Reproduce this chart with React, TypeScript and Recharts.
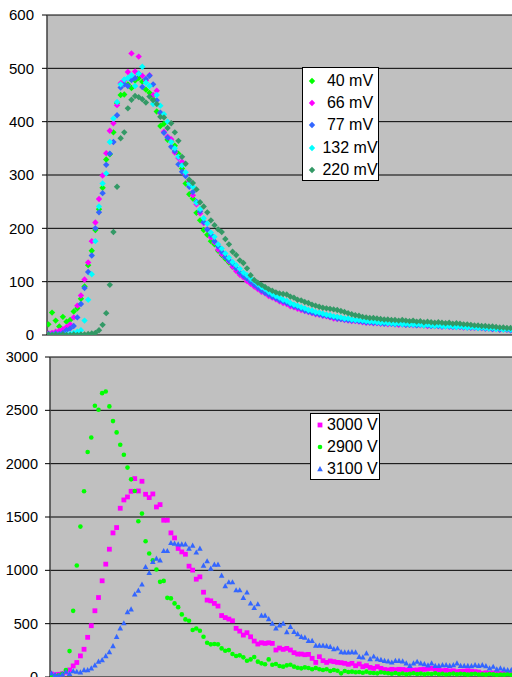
import { ScatterChart, Scatter, XAxis, YAxis, CartesianGrid, Legend } from 'recharts'

// Upper panel: spectra at several discriminator thresholds (index = channel)
const mv40 = [
  20, 42, 27, 16, 34, 25, 28, 44, 50, 68,
  91, 131, 158, 197, 236, 276, 329, 339, 380, 435,
  450, 451, 470, 463, 477, 482, 475, 460, 454, 442,
  419, 392, 396, 366, 363, 355, 340, 312, 284, 264,
  256, 229, 215, 197, 188, 176, 170, 158, 150, 143,
  136, 128, 124, 116, 111, 104, 101, 94, 90, 86,
  80, 78, 73, 70, 68, 63, 62, 58, 56, 52,
  50, 48, 45, 44, 41, 40, 38, 37, 35, 33,
  33, 31, 30, 29, 28, 27, 27, 25, 26, 24,
  24, 23, 22, 24, 21, 22, 21, 20, 22, 20,
  19, 21, 19, 20, 18, 19, 20, 17, 19, 18,
  17, 18, 16, 17, 16, 15, 17, 15, 14, 15,
  14, 13, 14, 12, 13, 12, 11, 12, 10,
]
const mv66 = [
  3, 4, 6, 8, 11, 15, 20, 33, 55, 74,
  104, 136, 176, 211, 255, 299, 341, 383, 397, 431,
  472, 477, 493, 528, 494, 522, 486, 477, 487, 450,
  458, 416, 381, 372, 367, 342, 332, 325, 300, 288,
  262, 245, 228, 210, 198, 183, 174, 160, 152, 146,
  138, 128, 120, 113, 108, 101, 96, 91, 86, 81,
  78, 73, 70, 67, 63, 60, 58, 54, 52, 49,
  47, 45, 43, 41, 39, 38, 36, 35, 33, 31,
  30, 30, 28, 27, 26, 26, 25, 24, 23, 23,
  22, 22, 21, 22, 20, 21, 20, 19, 20, 19,
  20, 18, 19, 18, 19, 17, 18, 17, 17, 16,
  17, 16, 15, 16, 15, 14, 15, 14, 13, 14,
  13, 12, 13, 11, 12, 10, 11, 10, 9,
]
const mv77 = [
  2, 1, 3, 2, 4, 9, 12, 17, 33, 58,
  88, 118, 149, 200, 230, 266, 319, 340, 362, 412,
  464, 470, 467, 478, 482, 490, 465, 480, 486, 470,
  440, 417, 379, 370, 353, 345, 320, 306, 298, 278,
  268, 250, 232, 212, 198, 188, 176, 166, 156, 146,
  140, 133, 125, 117, 111, 106, 100, 94, 89, 84,
  79, 76, 72, 69, 65, 63, 60, 57, 54, 52,
  49, 46, 44, 42, 40, 39, 37, 36, 34, 33,
  31, 30, 29, 28, 27, 27, 26, 25, 24, 24,
  23, 23, 22, 21, 22, 21, 20, 21, 20, 19,
  19, 20, 18, 19, 18, 18, 17, 18, 17, 16,
  17, 16, 16, 15, 16, 15, 14, 14, 15, 13,
  13, 12, 12, 11, 12, 10, 11, 10, 9,
]
const mv132 = [
  0, 0, 1, 0, 0, 1, 2, 4, 6, 9,
  27, 66, 114, 176, 241, 284, 303, 362, 406, 437,
  470, 479, 482, 487, 467, 490, 503, 473, 467, 433,
  450, 430, 414, 400, 362, 350, 334, 318, 305, 284,
  278, 248, 236, 219, 209, 192, 184, 170, 162, 153,
  145, 137, 131, 124, 117, 112, 106, 101, 95, 90,
  86, 81, 77, 73, 70, 66, 64, 60, 57, 55,
  52, 50, 47, 46, 43, 42, 40, 38, 37, 35,
  34, 33, 31, 31, 29, 28, 28, 27, 26, 25,
  25, 24, 23, 24, 22, 22, 21, 22, 20, 21,
  20, 19, 20, 19, 18, 19, 18, 17, 18, 17,
  16, 17, 16, 15, 16, 15, 14, 15, 14, 13,
  14, 13, 12, 13, 11, 12, 10, 11, 10,
]
const mv220 = [
  1, 0, 1, 0, 1, 0, 0, 1, 0, 1,
  1, 2, 3, 4, 9, 19, 41, 94, 193, 278,
  369, 380, 425, 441, 448, 446, 442, 436, 447, 440,
  433, 409, 408, 388, 397, 380, 364, 334, 321, 291,
  285, 273, 249, 241, 230, 215, 206, 198, 193, 180,
  170, 156, 150, 140, 135, 125, 112, 103, 98, 94,
  90, 86, 83, 80, 78, 77, 76, 72, 70, 66,
  65, 62, 60, 57, 55, 53, 51, 50, 49, 48,
  47, 45, 43, 41, 39, 37, 36, 34, 33, 32,
  32, 31, 30, 29, 29, 28, 28, 27, 28, 27,
  26, 27, 25, 26, 24, 25, 24, 23, 24, 23,
  22, 23, 21, 22, 21, 20, 20, 19, 18, 18,
  17, 17, 16, 16, 15, 14, 14, 13, 13,
]

// Lower panel: spectra at three high voltages
const v3000 = [
  28, 20, 25, 30, 45, 66, 104, 136, 198, 260,
  372, 481, 621, 745, 902, 1058, 1198, 1351, 1401, 1582,
  1660, 1688, 1741, 1860, 1744, 1835, 1713, 1682, 1716, 1594,
  1616, 1470, 1470, 1351, 1304, 1205, 1173, 1151, 1039, 1002,
  917, 939, 795, 721, 714, 690, 665, 576, 557, 543,
  527, 456, 430, 393, 415, 377, 337, 309, 321, 315,
  321, 315, 253, 271, 259, 268, 253, 228, 215, 215,
  209, 212, 175, 137, 190, 153, 137, 150, 144, 137,
  134, 128, 119, 128, 106, 122, 97, 106, 90, 81,
  97, 81, 70, 66, 72, 68, 72, 70, 66, 62,
  64, 66, 70, 72, 76, 81, 70, 66, 59, 62,
  56, 58, 50, 53, 55, 59, 52, 50, 46, 34,
  40, 34, 38, 40, 34, 36, 34, 34,
]
const v2900 = [
  10, 8, 15, 30, 66, 243, 620, 1045, 1410, 1741,
  2109, 2246, 2543, 2506, 2661, 2677, 2537, 2399, 2293, 2178,
  2084, 1963, 1853, 1744, 1460, 1532, 1273, 1158, 1095, 1008,
  892, 901, 742, 737, 690, 655, 587, 540, 527, 440,
  455, 433, 377, 321, 306, 310, 306, 268, 246, 252,
  215, 197, 203, 184, 153, 165, 187, 144, 128, 119,
  165, 115, 122, 103, 97, 109, 115, 97, 87, 81,
  90, 84, 72, 84, 72, 66, 72, 56, 66, 59,
  34, 56, 47, 50, 44, 47, 40, 50, 40, 37,
  34, 44, 40, 35, 30, 38, 28, 33, 25, 30,
  35, 28, 32, 25, 30, 28, 34, 26, 30, 24,
  28, 32, 25, 30, 27, 22, 28, 30, 24, 26,
  22, 28, 25, 20, 24, 22, 26, 20,
]
const v3100 = [
  34, 20, 15, 25, 50, 30, 56, 50, 45, 66,
  66, 81, 110, 145, 160, 197, 234, 291, 377, 456,
  505, 610, 634, 775, 811, 868, 1032, 976, 1079, 1111,
  1095, 1182, 1182, 1257, 1251, 1245, 1245, 1245, 1205, 1232,
  1168, 1205, 1045, 1086, 1017, 1055, 1055, 952, 852, 889,
  889, 814, 814, 742, 793, 690, 649, 683, 577, 577,
  543, 502, 456, 484, 502, 421, 471, 424, 402, 377,
  371, 340, 340, 296, 296, 296, 290, 284, 262, 268,
  234, 231, 231, 234, 231, 190, 184, 222, 168, 193,
  168, 162, 153, 147, 137, 153, 153, 147, 128, 106,
  128, 144, 128, 122, 109, 128, 106, 106, 112, 112,
  106, 112, 128, 106, 106, 106, 103, 112, 106, 112,
  103, 81, 97, 72, 81, 72, 66, 66,
]

const topTicks = [0, 100, 200, 300, 400, 500, 600]
const bottomTicks = [0, 500, 1000, 1500, 2000, 2500, 3000]

const toPoints = (vals: number[]) => vals.map((y, i) => ({ x: i, y }))

type Marker = 'diamond' | 'square' | 'circle' | 'triangle'

const topSeries = [
  { name: '40 mV', color: '#00FF00', values: mv40 },
  { name: '66 mV', color: '#FF00FF', values: mv66 },
  { name: '77 mV', color: '#3366FF', values: mv77 },
  { name: '132 mV', color: '#00FFFF', values: mv132 },
  { name: '220 mV', color: '#339966', values: mv220 },
]

const bottomSeries: { name: string; color: string; values: number[]; marker: Marker }[] = [
  { name: '3000 V', color: '#FF00FF', values: v3000, marker: 'square' },
  { name: '2900 V', color: '#00FF00', values: v2900, marker: 'circle' },
  { name: '3100 V', color: '#3366FF', values: v3100, marker: 'triangle' },
]

function MarkerShape({ cx, cy, color, marker }: { cx: number; cy: number; color: string; marker: Marker }) {
  if (cx == null || cy == null) return null
  if (marker === 'square') {
    return <rect x={cx - 2.4} y={cy - 2.4} width={4.8} height={4.8} fill={color} />
  }
  if (marker === 'circle') {
    return <circle cx={cx} cy={cy} r={2.3} fill={color} />
  }
  if (marker === 'triangle') {
    return <path d={`M${cx} ${cy - 3}L${cx + 2.8} ${cy + 2.2}L${cx - 2.8} ${cy + 2.2}Z`} fill={color} />
  }
  const r = 3.2
  return <path d={`M${cx} ${cy - r}L${cx + r} ${cy}L${cx} ${cy + r}L${cx - r} ${cy}Z`} fill={color} />
}

function LegendIcon({ color, marker }: { color: string; marker: Marker }) {
  return (
    <svg width={8} height={8} style={{ position: 'absolute', left: 4.5, top: 7, overflow: 'visible' }}>
      <MarkerShape cx={4} cy={4} color={color} marker={marker} />
    </svg>
  )
}

function TopLegend() {
  return (
    <div style={{ width: 77, height: 114, border: '1px solid #000', background: '#fff', boxSizing: 'border-box', paddingTop: 1.5 }}>
      {topSeries.map(s => (
        <div key={s.name} style={{ position: 'relative', height: 22.4 }}>
          <LegendIcon color={s.color} marker="diamond" />
          <span style={{ position: 'absolute', left: 17, top: 0, width: 60, textAlign: 'center', fontSize: 16, lineHeight: '22.4px', color: '#000' }}>
            {s.name}
          </span>
        </div>
      ))}
    </div>
  )
}

function BottomLegend() {
  return (
    <div style={{ width: 70, height: 67, border: '1px solid #000', background: '#fff', boxSizing: 'border-box', paddingTop: 0 }}>
      {bottomSeries.map(s => (
        <div key={s.name} style={{ position: 'relative', height: 22.2 }}>
          <LegendIcon color={s.color} marker={s.marker} />
          <span style={{ position: 'absolute', left: 16, top: 0, fontSize: 16, lineHeight: '22.2px', color: '#000', whiteSpace: 'nowrap' }}>
            {s.name}
          </span>
        </div>
      ))}
    </div>
  )
}

export default function App() {
  return (
    <div style={{ position: 'absolute', left: 0, top: 0, width: 512, height: 677, background: '#fff', overflow: 'hidden', fontFamily: '"Liberation Sans", Arial, sans-serif' }}>
      {/* Upper chart */}
      <div style={{ position: 'absolute', left: 0, top: 0 }}>
        <ScatterChart width={512} height={345} margin={{ top: 15, right: 0, bottom: 10, left: 0 }}>
          <CartesianGrid vertical={false} stroke="#000" fill="#C0C0C0" fillOpacity={1} />
          <XAxis type="number" dataKey="x" domain={[-0.4, 128.4]} hide allowDataOverflow />
          <YAxis
            type="number"
            dataKey="y"
            domain={[0, 600]}
            ticks={topTicks}
            interval={0}
            width={47}
            tickSize={5}
            tickMargin={8}
            allowDataOverflow
            axisLine={{ stroke: '#404040', strokeWidth: 1.5 }}
            tickLine={{ stroke: '#000' }}
            tick={{ fill: '#000', fontSize: 15 }}
          />
          <Legend
            layout="vertical"
            align="center"
            verticalAlign="middle"
            content={() => <TopLegend />}
            wrapperStyle={{ left: 302, top: 67, width: 77, height: 114 }}
          />
          {topSeries.map(s => (
            <Scatter
              key={s.name}
              name={s.name}
              data={toPoints(s.values)}
              fill={s.color}
              isAnimationActive={false}
              shape={(p: any) => <MarkerShape cx={p.cx} cy={p.cy} color={s.color} marker="diamond" />}
            />
          ))}
        </ScatterChart>
      </div>

      {/* Lower chart */}
      <div style={{ position: 'absolute', left: 0, top: 340 }}>
        <ScatterChart width={512} height={345} margin={{ top: 17, right: 0, bottom: 8, left: 0 }}>
          <CartesianGrid vertical={false} stroke="#000" fill="#C0C0C0" fillOpacity={1} />
          <XAxis type="number" dataKey="x" domain={[-0.4, 127.2]} hide allowDataOverflow />
          <YAxis
            type="number"
            dataKey="y"
            domain={[0, 3000]}
            ticks={bottomTicks}
            interval={0}
            width={50}
            tickSize={5}
            tickMargin={7}
            allowDataOverflow
            axisLine={{ stroke: '#404040', strokeWidth: 1.5 }}
            tickLine={{ stroke: '#000' }}
            tick={{ fill: '#000', fontSize: 14.5 }}
          />
          <Legend
            layout="vertical"
            align="center"
            verticalAlign="middle"
            content={() => <BottomLegend />}
            wrapperStyle={{ left: 310, top: 73, width: 70, height: 67 }}
          />
          {bottomSeries.map(s => (
            <Scatter
              key={s.name}
              name={s.name}
              data={toPoints(s.values)}
              fill={s.color}
              isAnimationActive={false}
              shape={(p: any) => <MarkerShape cx={p.cx} cy={p.cy} color={s.color} marker={s.marker} />}
            />
          ))}
        </ScatterChart>
      </div>
    </div>
  )
}
